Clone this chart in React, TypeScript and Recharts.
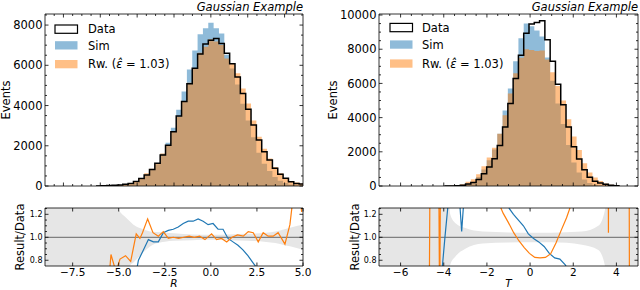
import React from 'react';
import { ComposedChart, Area, Line, XAxis, YAxis, ReferenceLine, Customized } from 'recharts';

const FONT = 'DejaVu Sans, sans-serif';

// ---------- Left panel (R) histogram: bin edges and bin contents ----------
const rEdges = [-6.23, -5.94, -5.65, -5.36, -5.07, -4.78, -4.49, -4.2, -3.91, -3.62, -3.33, -3.04, -2.75, -2.46, -2.17, -1.88, -1.59, -1.3, -1.01, -0.72, -0.43, -0.14, 0.15, 0.44, 0.73, 1.02, 1.31, 1.6, 1.89, 2.18, 2.47, 2.76, 3.05, 3.34, 3.63, 3.92, 4.21, 4.5, 4.79, 5.08];
const rData = [5, 10, 20, 35, 55, 85, 130, 220, 370, 550, 820, 1130, 1540, 2030, 2700, 3480, 4200, 5080, 5850, 6560, 7060, 7240, 7330, 7080, 6600, 6080, 5420, 4600, 3820, 3030, 2290, 1700, 1290, 880, 580, 380, 215, 130, 100];
const rSim = [1, 2, 4, 8, 15, 30, 65, 155, 320, 520, 790, 1085, 1600, 2150, 2890, 3790, 4700, 5790, 6730, 7540, 7840, 8110, 7840, 7575, 6530, 5840, 5050, 4090, 3250, 2420, 1650, 1100, 750, 450, 260, 150, 75, 40, 25];
const rRw = [0, 3, 17, 21, 45, 71, 103, 227, 377, 638, 853, 1141, 1617, 2010, 2700, 3445, 4200, 5130, 5850, 6625, 6920, 7300, 7180, 7010, 6340, 6080, 5600, 4850, 4100, 3250, 2450, 1850, 1370, 950, 640, 400, 250, 170, 120];

// ---------- Right panel (T) histogram ----------
const tEdges = [-3.97, -3.725, -3.48, -3.235, -2.99, -2.745, -2.5, -2.255, -2.01, -1.765, -1.52, -1.275, -1.03, -0.785, -0.54, -0.295, -0.05, 0.195, 0.44, 0.685, 0.93, 1.175, 1.42, 1.665, 1.91, 2.155, 2.4, 2.645, 2.89, 3.135, 3.38, 3.625, 3.87, 4.115];
const tData = [0, 5, 20, 50, 120, 210, 380, 720, 1110, 1600, 2370, 3450, 4830, 6290, 7650, 8930, 9470, 9560, 9660, 8560, 7300, 5950, 4750, 3450, 2300, 1580, 950, 510, 280, 170, 100, 50, 20];
const tSim = [0, 3, 15, 40, 110, 240, 520, 970, 1500, 2130, 3050, 4420, 5700, 7300, 8640, 9500, 9350, 9100, 8750, 7520, 6150, 4820, 3630, 2400, 1380, 790, 380, 170, 70, 30, 10, 5, 0];
const tRw = [0, 10, 40, 100, 250, 400, 680, 1150, 1670, 2240, 3050, 4140, 5410, 6600, 7500, 8000, 7950, 7900, 7930, 7400, 6650, 5850, 5000, 3900, 2900, 2100, 1330, 790, 490, 290, 150, 70, 30];

// ---------- Ratio panels ----------
const rBandX = [-9, -5.3, -5.0, -4.6, -4.4, -4.2, -3.85, -3.3, -3.0, -2.5, -2.0, -1.0, 0, 1.0, 2.0, 3.0, 3.5, 4.0, 4.7, 5.0];
const rBandHi = [1.6, 1.35, 1.24, 1.17, 1.14, 1.11, 1.08, 1.05, 1.045, 1.04, 1.035, 1.025, 1.022, 1.025, 1.03, 1.04, 1.05, 1.07, 1.1, 1.11];
const rBandLo = [0.4, 0.45, 0.5, 0.62, 0.75, 0.78, 0.84, 0.92, 0.945, 0.962, 0.97, 0.975, 0.978, 0.975, 0.97, 0.96, 0.95, 0.93, 0.905, 0.89];
const rRwRatioX = [-5.7, -5.42, -5.15, -4.93, -4.63, -4.35, -4.05, -3.85, -3.71, -3.43, -3.14, -2.85, -2.58, -2.31, -2.04, -1.75, -1.47, -1.18, -0.9, -0.61, -0.32, 0.04, 0.31, 0.58, 0.86, 1.15, 1.45, 1.76, 2.03, 2.3, 2.57, 2.84, 3.11, 3.38, 3.65, 4.02, 4.29, 4.5, 4.75, 4.93];
const rRwRatio = [0.3, 0.85, 0.7, 0.81, 0.84, 0.79, 1.03, 0.99, 1.04, 1.16, 1.04, 1.01, 1.05, 0.99, 1.0, 0.99, 1.0, 1.01, 1.0, 1.01, 0.98, 1.03, 0.98, 0.99, 0.96, 1.0, 1.02, 1.01, 1.05, 1.04, 0.96, 1.04, 1.01, 1.01, 1.04, 0.94, 1.11, 1.4, 1.45, 1.22];
const rSimRatioX = [-4.22, -3.93, -3.66, -3.39, -3.12, -2.85, -2.58, -2.31, -2.04, -1.77, -1.5, -1.23, -0.96, -0.69, -0.42, -0.15, 0.12, 0.39, 0.66, 0.93, 1.2, 1.47, 1.74, 2.01, 2.28, 2.55, 2.82, 3.09, 3.36, 3.63, 3.9, 4.17, 4.44, 4.71, 4.98];
const rSimRatio = [0.55, 0.8, 0.89, 0.98, 0.96, 0.96, 1.04, 1.06, 1.07, 1.09, 1.12, 1.14, 1.14, 1.16, 1.14, 1.11, 1.12, 1.07, 1.07, 0.99, 0.96, 0.93, 0.89, 0.84, 0.78, 0.72, 0.66, 0.6, 0.55, 0.5, 0.45, 0.42, 0.4, 0.38, 0.36];

const tBandX = [-7, -3.85, -3.7, -3.47, -3.0, -2.2, -1.0, 0, 1.0, 2.4, 3.16, 3.47, 3.6, 5];
const tBandHi = [1.6, 1.6, 1.2, 1.125, 1.08, 1.05, 1.042, 1.04, 1.04, 1.05, 1.1, 1.24, 1.6, 1.6];
const tBandLo = [0.4, 0.4, 0.76, 0.83, 0.9, 0.945, 0.955, 0.956, 0.956, 0.936, 0.89, 0.75, 0.4, 0.4];
const tRwRatioX = [-5.2, -4.685, -4.44, -4.19, -3.95, -3.7, -3.46, -3.21, -2.97, -2.72, -2.48, -2.23, -1.99, -1.74, -1.5, -1.25, -1.01, -0.76, -0.52, -0.27, -0.03, 0.22, 0.46, 0.71, 0.95, 1.2, 1.44, 1.69, 1.93, 2.18, 2.42, 2.67, 2.91, 3.16, 3.4, 3.63, 3.87, 4.12, 4.36, 4.61, 4.85];
const tRwRatio = [0, 0, 8, 0.3, 8, 5, 4, 3.2, 2.6, 2.2, 1.95, 1.75, 1.6, 1.45, 1.32, 1.21, 1.13, 1.04, 0.97, 0.91, 0.86, 0.825, 0.82, 0.825, 0.855, 0.95, 1.06, 1.17, 1.3, 1.45, 1.6, 1.8, 2.1, 2.5, 20, 1.04, 20, 4, 20, 0, 0];
const tSimRatioX = [-4.43, -4.18, -3.94, -3.69, -3.41, -3.17, -2.92, -2.68, -2.43, -2.19, -1.94, -1.7, -1.45, -1.21, -0.96, -0.77, -0.54, -0.31, -0.08, 0.16, 0.4, 0.65, 0.89, 1.14, 1.38, 1.63, 1.87, 2.12, 2.36, 2.61, 2.85];
const tSimRatio = [0.3, 0.5, 1.01, 1.5, 1.72, 1.05, 1.72, 2.0, 2.1, 2.0, 1.8, 1.62, 1.48, 1.35, 1.25, 1.2, 1.15, 1.1, 1.03, 0.99, 0.96, 0.92, 0.86, 0.82, 0.81, 0.76, 0.68, 0.6, 0.5, 0.45, 0.4];

// ---------- Tick labels ----------
const rHistXMajor = [-8, -6, -4, -2, 0, 2, 4];
const rHistYMajor = [0, 2000, 4000, 6000, 8000];
const tHistXMajor = [-6, -4, -2, 0, 2, 4];
const tHistYMajor = [0, 2000, 4000, 6000, 8000, 10000];
const rRatioXMajor = [-7.5, -5, -2.5, 0, 2.5, 5];
const tRatioXMajor = [-6, -4, -2, 0, 2, 4];
const ratioYMajor = [0.8, 1.0, 1.2];

const legendLabels = ['Data', 'Sim'];
const title = 'Gaussian Example';

const BLUE = '#1f77b4';
const ORANGE = '#ff7f0e';

const withMinors = (majors: number[], step: number, lo: number, hi: number) => {
  const out: number[] = [];
  const n0 = Math.ceil(lo / step - 1e-9);
  const n1 = Math.floor(hi / step + 1e-9);
  for (let i = n0; i <= n1; i++) out.push(+(i * step).toFixed(6));
  majors.forEach((m) => {
    if (!out.some((v) => Math.abs(v - m) < 1e-6)) out.push(m);
  });
  return out.sort((a, b) => a - b);
};

type Side = 'bottom' | 'top' | 'left' | 'right';
const tickFactory = (
  side: Side,
  majors: number[],
  fmt: ((v: number) => string) | null,
  fontSize: number,
) => (props: any) => {
  const { x, y, payload } = props;
  const v = payload.value as number;
  const isMajor = majors.some((m) => Math.abs(m - v) < 1e-6);
  const L = isMajor ? 3.5 : 2;
  let x2 = x;
  let y2 = y;
  if (side === 'bottom') y2 = y - L;
  if (side === 'top') y2 = y + L;
  if (side === 'left') x2 = x + L;
  if (side === 'right') x2 = x - L;
  let label: React.ReactNode = null;
  if (fmt && isMajor) {
    if (side === 'bottom')
      label = (
        <text x={x} y={y + fontSize - 0.5} textAnchor="middle" fontSize={fontSize} fontFamily={FONT} fill="#000">
          {fmt(v)}
        </text>
      );
    if (side === 'left')
      label = (
        <text x={x - 2.5} y={y + fontSize * 0.36} textAnchor="end" fontSize={fontSize} fontFamily={FONT} fill="#000">
          {fmt(v)}
        </text>
      );
  }
  return (
    <g>
      <line x1={x} y1={y} x2={x2} y2={y2} stroke="#000" strokeWidth={0.8} />
      {label}
    </g>
  );
};

const minus = (s: string) => s.replace('-', '\u2212');

type Plot = { left: number; right: number; top: number; bottom: number };
const marginFor = (p: Plot) => ({ top: p.top - 1, left: p.left - 1, right: 640 - p.right - 1, bottom: 290 - p.bottom - 1 });

const Frame = (p: {
  xDomain: [number, number];
  yDomain: [number, number];
  xTicks: number[];
  xMajor: number[];
  yTicks: number[];
  yMajor: number[];
  xFmt: ((v: number) => string) | null;
  yFmt: ((v: number) => string) | null;
  xFont: number;
  yFont: number;
}) => [
  <XAxis key="xb" xAxisId="b" dataKey="x" type="number" domain={p.xDomain} allowDataOverflow ticks={p.xTicks} interval={0}
    tickSize={0} tickMargin={0} height={1} axisLine={{ stroke: '#000', strokeWidth: 0.8 }} tickLine={false}
    tick={tickFactory('bottom', p.xMajor, p.xFmt, p.xFont)} />,
  <XAxis key="xt" xAxisId="t" dataKey="x" orientation="top" type="number" domain={p.xDomain} allowDataOverflow ticks={p.xTicks} interval={0}
    tickSize={0} tickMargin={0} height={1} axisLine={{ stroke: '#000', strokeWidth: 0.8 }} tickLine={false}
    tick={tickFactory('top', p.xMajor, null, p.xFont)} />,
  <YAxis key="yl" yAxisId="l" type="number" domain={p.yDomain} allowDataOverflow ticks={p.yTicks} interval={0}
    tickSize={0} tickMargin={0} width={1} axisLine={{ stroke: '#000', strokeWidth: 0.8 }} tickLine={false}
    tick={tickFactory('left', p.yMajor, p.yFmt, p.yFont)} />,
  <YAxis key="yr" yAxisId="r" orientation="right" type="number" domain={p.yDomain} allowDataOverflow ticks={p.yTicks} interval={0}
    tickSize={0} tickMargin={0} width={1} axisLine={{ stroke: '#000', strokeWidth: 0.8 }} tickLine={false}
    tick={tickFactory('right', p.yMajor, null, p.yFont)} />,
];

const HistPanel = (p: {
  edges: number[];
  data: number[];
  sim: number[];
  rw: number[];
  plot: Plot;
  xDomain: [number, number];
  yDomain: [number, number];
  xMajor: number[];
  yMajor: number[];
  legendX: number;
  legendTextX: number;
  legendY: number[];
  yLabelX: number;
}) => {
  const rows = p.edges.map((e, i) => ({
    x: e,
    data: i < p.data.length ? p.data[i] : 0,
    sim: i < p.sim.length ? p.sim[i] : 0,
    rw: i < p.rw.length ? p.rw[i] : 0,
  }));
  const xTicks = withMinors(p.xMajor, 0.5, p.xDomain[0] + 0.01, p.xDomain[1] - 0.01);
  const yTicks = withMinors(p.yMajor, 500, p.yDomain[0], p.yDomain[1] - 1);
  const { plot } = p;
  const Overlay = () => (
    <g fontFamily={FONT} fill="#000">
      <text x={plot.right} y={11} textAnchor="end" fontSize={11.5} fontStyle="italic">{title}</text>
      <text transform={`translate(${p.yLabelX},${(plot.top + plot.bottom) / 2}) rotate(-90)`} textAnchor="middle" fontSize={11.5}>Events</text>
      <rect x={p.legendX} y={p.legendY[0] - 8.3} width={22.5} height={8.3} fill="#fff" stroke="#000" strokeWidth={1.2} />
      <text x={p.legendTextX} y={p.legendY[0]} fontSize={11.5}>{legendLabels[0]}</text>
      <rect x={p.legendX} y={p.legendY[1] - 8.3} width={22.5} height={8.3} fill={BLUE} fillOpacity={0.5} />
      <text x={p.legendTextX} y={p.legendY[1]} fontSize={11.5}>{legendLabels[1]}</text>
      <rect x={p.legendX} y={p.legendY[2] - 8.3} width={22.5} height={8.3} fill={ORANGE} fillOpacity={0.5} />
      <text x={p.legendTextX} y={p.legendY[2]} fontSize={11.5}>
        Rw. (<tspan fontStyle="italic">{'\u03B5\u0302'}</tspan> = 1.03)
      </text>
    </g>
  );
  return (
    <div style={{ position: 'absolute', left: 0, top: 0 }}>
      <ComposedChart width={640} height={290} data={rows} margin={marginFor(plot)}>
        {Frame({
          xDomain: p.xDomain, yDomain: p.yDomain, xTicks, xMajor: p.xMajor, yTicks, yMajor: p.yMajor,
          xFmt: null, yFmt: (v) => String(v), xFont: 10.5, yFont: 11.5,
        })}
        <Area xAxisId="b" yAxisId="l" dataKey="sim" type="stepAfter" fill={BLUE} fillOpacity={0.5} stroke="none" isAnimationActive={false} dot={false} activeDot={false} />
        <Area xAxisId="b" yAxisId="l" dataKey="rw" type="stepAfter" fill={ORANGE} fillOpacity={0.5} stroke="none" isAnimationActive={false} dot={false} activeDot={false} />
        <Line xAxisId="b" yAxisId="l" dataKey="data" type="stepAfter" stroke="#000" strokeWidth={1.5} dot={false} activeDot={false} isAnimationActive={false} />
        <Customized component={Overlay} />
      </ComposedChart>
    </div>
  );
};

const RatioPanel = (p: {
  plot: Plot;
  xDomain: [number, number];
  xMajor: number[];
  xFmt: (v: number) => string;
  bandX: number[];
  bandLo: number[];
  bandHi: number[];
  simX: number[];
  sim: number[];
  rwX: number[];
  rw: number[];
  xLabel: string;
  yLabelX: number;
}) => {
  const band = p.bandX.map((x, i) => ({ x, band: [p.bandLo[i], p.bandHi[i]] }));
  const simRows = p.simX.map((x, i) => ({ x, v: p.sim[i] }));
  const rwRows = p.rwX.map((x, i) => ({ x, v: p.rw[i] }));
  const yDomain: [number, number] = [0.75, 1.255];
  const yTicks = withMinors(ratioYMajor, 0.05, 0.76, 1.25);
  const { plot } = p;
  const Overlay = () => (
    <g fontFamily={FONT} fill="#000">
      <text transform={`translate(${p.yLabelX},${(plot.top + plot.bottom) / 2}) rotate(-90)`} textAnchor="middle" fontSize={11.5}>Result/Data</text>
      <text x={(plot.left + plot.right) / 2} y={286.5} textAnchor="middle" fontSize={10.5} fontStyle="italic">{p.xLabel}</text>
    </g>
  );
  return (
    <div style={{ position: 'absolute', left: 0, top: 0 }}>
      <ComposedChart width={640} height={290} margin={marginFor(plot)}>
        {Frame({
          xDomain: p.xDomain, yDomain, xTicks: p.xMajor, xMajor: p.xMajor, yTicks, yMajor: ratioYMajor,
          xFmt: p.xFmt, yFmt: (v) => v.toFixed(1), xFont: 10.5, yFont: 8,
        })}
        <Area xAxisId="b" yAxisId="l" data={band} dataKey="band" type="monotone" fill="#e6e6e6" fillOpacity={1} stroke="none" isAnimationActive={false} dot={false} activeDot={false} />
        <ReferenceLine xAxisId="b" yAxisId="l" y={1} stroke="#808080" strokeWidth={1.3} />
        <Line xAxisId="b" yAxisId="l" data={simRows} dataKey="v" type="linear" stroke={BLUE} strokeWidth={1.2} dot={false} activeDot={false} isAnimationActive={false} />
        <Line xAxisId="b" yAxisId="l" data={rwRows} dataKey="v" type="linear" stroke={ORANGE} strokeWidth={1.2} dot={false} activeDot={false} isAnimationActive={false} />
        <Customized component={Overlay} />
      </ComposedChart>
    </div>
  );
};

export default function App() {
  return (
    <div style={{ position: 'absolute', left: 0, top: 0, width: 640, height: 290, background: '#fff', overflow: 'hidden' }}>
      <HistPanel
        edges={rEdges} data={rData} sim={rSim} rw={rRw}
        plot={{ left: 45, right: 303, top: 14, bottom: 186 }}
        xDomain={[-9, 5]} yDomain={[0, 8550]} xMajor={rHistXMajor} yMajor={rHistYMajor}
        legendX={55} legendTextX={88} legendY={[33.3, 49.5, 68.3]} yLabelX={10}
      />
      <HistPanel
        edges={tEdges} data={tData} sim={tSim} rw={tRw}
        plot={{ left: 379, right: 638, top: 14, bottom: 186 }}
        xDomain={[-7, 5]} yDomain={[0, 10060]} xMajor={tHistXMajor} yMajor={tHistYMajor}
        legendX={390} legendTextX={422} legendY={[31.7, 48.7, 67.7]} yLabelX={337}
      />
      <RatioPanel
        plot={{ left: 45, right: 303, top: 208, bottom: 266 }}
        xDomain={[-9, 5]} xMajor={rRatioXMajor} xFmt={(v) => minus(v.toFixed(1))}
        bandX={rBandX} bandLo={rBandLo} bandHi={rBandHi}
        simX={rSimRatioX} sim={rSimRatio} rwX={rRwRatioX} rw={rRwRatio}
        xLabel="R" yLabelX={23.5}
      />
      <RatioPanel
        plot={{ left: 379, right: 638, top: 208, bottom: 266 }}
        xDomain={[-7, 5]} xMajor={tRatioXMajor} xFmt={(v) => minus(String(v))}
        bandX={tBandX} bandLo={tBandLo} bandHi={tBandHi}
        simX={tSimRatioX} sim={tSimRatio} rwX={tRwRatioX} rw={tRwRatio}
        xLabel="T" yLabelX={358.5}
      />
    </div>
  );
}
